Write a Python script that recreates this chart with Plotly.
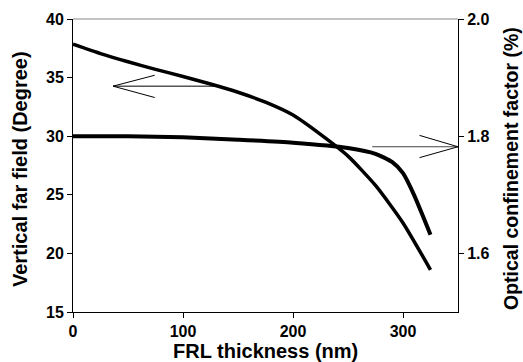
import plotly.graph_objects as go

# Vertical far field (left axis)
ff_thickness = [0, 25, 50, 75, 100, 125, 150, 175, 200, 225, 250, 275, 300, 325]
ff_degree = [37.85, 37.05, 36.35, 35.7, 35.1, 34.45, 33.75, 32.9, 31.8, 30.15, 28.3, 25.8, 22.6, 18.6]

# Optical confinement factor (right axis)
ocf_thickness = [0, 50, 100, 150, 200, 250, 275, 290, 300, 310, 325]
ocf_percent = [1.800, 1.800, 1.798, 1.794, 1.789, 1.780, 1.770, 1.756, 1.737, 1.700, 1.632]

x_ticks = [0, 100, 200, 300]
y_left_ticks = [15, 20, 25, 30, 35, 40]
y_right_ticks = [1.6, 1.8, 2.0]
y_right_labels = ["1.6", "1.8", "2.0"]

FONT = "Liberation Sans, Arial, sans-serif"

fig = go.Figure()
fig.add_trace(go.Scatter(x=ff_thickness, y=ff_degree, mode="lines",
                         line=dict(color="black", width=3.5, shape="spline", smoothing=0.6),
                         showlegend=False, yaxis="y"))
fig.add_trace(go.Scatter(x=ocf_thickness, y=ocf_percent, mode="lines",
                         line=dict(color="black", width=4, shape="spline", smoothing=0.6),
                         showlegend=False, yaxis="y2"))

# arrows (open V heads) pointing to the axes
shapes = []
def seg(x0, y0, x1, y1, color="black"):
    shapes.append(dict(type="line", xref="x", yref="y", x0=x0, y0=y0, x1=x1, y1=y1,
                       line=dict(color=color, width=1)))
seg(36.4, 34.27, 130.4, 34.27)
seg(36.4, 34.27, 74.3, 35.2)
seg(36.4, 34.27, 74.3, 33.3)
seg(272, 29.1, 350, 29.1, "#444444")
seg(350, 29.1, 315, 30.07)
seg(350, 29.1, 315, 28.17)
# top border
shapes.append(dict(type="line", xref="paper", yref="paper", x0=0, x1=1, y0=1, y1=1,
                   line=dict(color="#888888", width=1)))

annotations = [
    dict(text="<b>Vertical far field (Degree)</b>", xref="paper", yref="paper",
         x=(20 - 73) / 385, y=0.488, textangle=-90, showarrow=False,
         xanchor="center", yanchor="middle", font=dict(family=FONT, size=20, color="black")),
    dict(text="<b>Optical confinement factor (%)</b>", xref="paper", yref="paper",
         x=(511 - 73) / 385, y=0.488, textangle=-90, showarrow=False,
         xanchor="center", yanchor="middle", font=dict(family=FONT, size=19.5, color="black")),
    dict(text="<b>FRL thickness (nm)</b>", xref="paper", yref="paper",
         x=0.5, y=(312 - 351) / 293, showarrow=False,
         xanchor="center", yanchor="middle", font=dict(family=FONT, size=20, color="black")),
]

tickfont = dict(family=FONT, size=16, color="black")

def bold(labels):
    return ["<b>%s</b>" % l for l in labels]

fig.update_layout(
    width=523, height=362,
    margin=dict(l=73, r=65, t=19, b=50),
    paper_bgcolor="white", plot_bgcolor="white",
    shapes=shapes, annotations=annotations,
    xaxis=dict(range=[0, 350], tickvals=x_ticks, ticktext=bold([str(v) for v in x_ticks]),
               ticks="outside", ticklen=5,
               showline=True, linecolor="black", linewidth=1, showgrid=False,
               zeroline=False, tickfont=tickfont, tickcolor="black"),
    yaxis=dict(range=[15, 40], tickvals=y_left_ticks, ticktext=bold([str(v) for v in y_left_ticks]),
               ticks="outside", ticklen=5,
               showline=True, linecolor="black", linewidth=1, showgrid=False,
               zeroline=False, tickfont=tickfont, tickcolor="black"),
    yaxis2=dict(range=[1.5, 2.0], tickvals=y_right_ticks, ticktext=bold(y_right_labels),
                overlaying="y", side="right", ticks="outside", ticklen=5,
                showline=True, linecolor="black", linewidth=1, showgrid=False,
                zeroline=False, tickfont=tickfont, tickcolor="black"),
)

fig.write_html("out.html")
